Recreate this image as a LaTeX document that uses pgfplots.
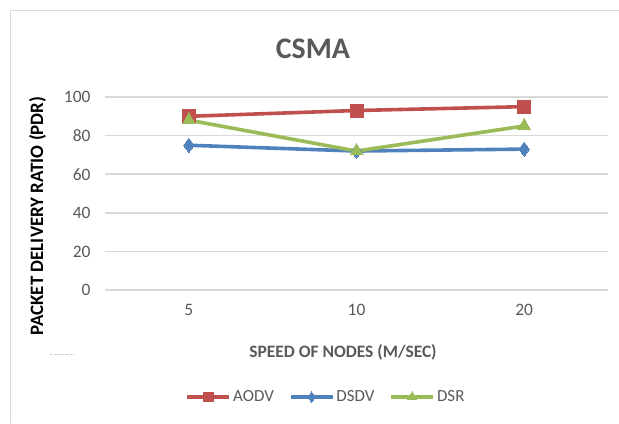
\documentclass[border=0pt]{standalone}
\usepackage{pgfplots}
\pgfplotsset{compat=1.18}
\usepackage{fontspec}
\setmainfont{Carlito}

\definecolor{aodvred}{HTML}{C0504D}
\definecolor{dsdvblue}{HTML}{4F81BD}
\definecolor{dsrgreen}{HTML}{9BBB59}
\definecolor{txtgray}{HTML}{595959}
\definecolor{gridgray}{HTML}{D9D9D9}

\begin{document}
\begin{tikzpicture}[x=1bp,y=1bp]
\useasboundingbox (0,0) rectangle (619,423);
% chart frame
\draw[gridgray, line width=1bp] (10,0) -- (10,412) -- (619,412);

% title and axis titles
\node[anchor=base, text=txtgray, font=\fontsize{30}{34}\selectfont\bfseries] at (313,365) {CSMA};
\node[anchor=base, text=txtgray, font=\fontsize{17.5}{20}\selectfont\bfseries] at (343,66) {SPEED OF NODES (M/SEC)};
\node[anchor=base, rotate=90, text=black, font=\fontsize{19}{21}\selectfont\bfseries] at (43,207) {PACKET DELIVERY RATIO (PDR)};
\draw[gridgray!80!gray, line width=0.8bp, dash pattern=on 1.5bp off 1bp] (50,69) -- (75,69);

\begin{axis}[
  at={(105bp,133bp)}, anchor=south west,
  scale only axis, width=503bp, height=193bp,
  xmin=-0.5, xmax=2.5, ymin=0, ymax=100,
  xtick={0,1,2}, xticklabels={5,10,20},
  ytick={0,20,40,60,80,100},
  axis line style={draw=none},
  major tick style={draw=none},
  ymajorgrids,
  major grid style={gridgray, line width=1.5bp},
  /pgf/number format/assume math mode=true,
  ticklabel style={text=txtgray, font=\fontsize{17.5}{20}\selectfont},
  yticklabel style={xshift=-11bp},
  xticklabel style={yshift=-11bp},
  clip=false,
  legend columns=3,
  legend style={at={(0.4394,-0.5544)}, anchor=center, draw=none, fill=none,
    font=\fontsize{17}{20}\selectfont, text=txtgray,
    /tikz/every even column/.append style={column sep=13bp},
    inner sep=0pt},
  legend image code/.code={%
    \draw[mark repeat=2, mark phase=2, /tikz/every mark/.append style={scale=0.72}]
      plot coordinates {(0bp,0bp) (21bp,0bp) (42bp,0bp)};},
  every axis plot/.append style={line width=3.6bp},
]
\addplot[aodvred, mark=square*, mark size=6.5bp, mark options={line width=0pt}]
  coordinates {(0,90) (1,93) (2,95)};
\addlegendentry{AODV}
\addplot[dsdvblue, mark=diamond*, mark size=7bp, mark options={line width=0pt}]
  coordinates {(0,75) (1,72) (2,73)};
\addlegendentry{DSDV}
\addplot[dsrgreen, mark=triangle*, mark size=7.5bp, mark options={line width=0pt}]
  coordinates {(0,88) (1,72) (2,85)};
\addlegendentry{DSR}
\end{axis}
\end{tikzpicture}
\end{document}
